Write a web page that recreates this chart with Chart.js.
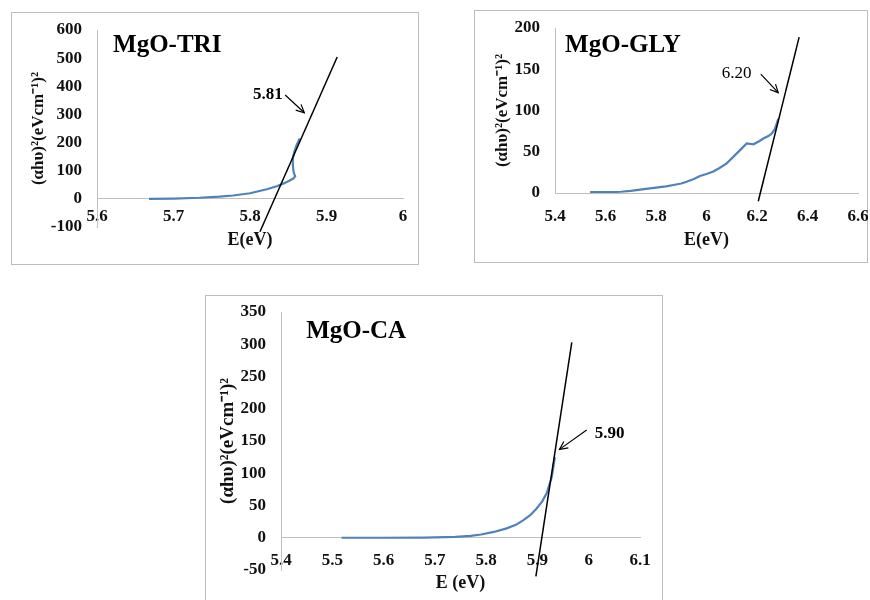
<!DOCTYPE html>
<html><head><meta charset="utf-8">
<script src="https://cdn.jsdelivr.net/npm/chart.js@4.4.1/dist/chart.umd.min.js"></script>
<style>
html,body{margin:0;padding:0;background:#fff}
body{width:870px;height:600px;position:relative;overflow:hidden}
.frame{position:absolute;border:1px solid #bdbdbd;box-sizing:border-box;background:#fff}
canvas{position:absolute}
</style></head><body>
<div class="frame" style="left:11px;top:12px;width:408px;height:253px"></div>
<div class="frame" style="left:474px;top:10px;width:394px;height:253px"></div>
<div class="frame" style="left:205px;top:295px;width:458px;height:320px"></div>
<canvas id="c1" width="408" height="253" style="left:11px;top:12px"></canvas>
<canvas id="c2" width="394" height="253" style="left:474px;top:10px"></canvas>
<canvas id="c3" width="458" height="305" style="left:205px;top:295px"></canvas>
<script>
// ---------- DATA ----------
// MgO-TRI
const triE = [5.668, 5.70, 5.734, 5.76, 5.778, 5.80, 5.822, 5.835, 5.844, 5.852, 5.857, 5.859, 5.857, 5.856, 5.856, 5.858, 5.861, 5.865];
const triA = [0, 1, 4, 8, 12, 20, 34, 45, 55, 65, 73, 80, 95, 120, 145, 168, 192, 215];
const triTanE = [5.813, 5.914];
const triTanA = [-117, 504];
const triXTicks = [5.6, 5.7, 5.8, 5.9, 6];
const triXLabels = ['5.6', '5.7', '5.8', '5.9', '6'];
const triYTicks = [-100, 0, 100, 200, 300, 400, 500, 600];
const triYLabels = ['-100', '0', '100', '200', '300', '400', '500', '600'];

// MgO-GLY
const glyE = [5.539, 5.60, 5.66, 5.70, 5.737, 5.76, 5.80, 5.84, 5.869, 5.90, 5.921, 5.95, 5.974, 6.00, 6.027, 6.05, 6.08, 6.11, 6.133, 6.159, 6.186, 6.21, 6.225, 6.245, 6.258, 6.27, 6.278, 6.284];
const glyA = [1, 1, 1.5, 2.5, 4, 5, 6.5, 8, 9.7, 11.5, 13.7, 17, 20.6, 23, 26, 30, 36, 45, 52, 60, 59, 63, 66, 69, 72, 77, 84, 90];
const glyTanE = [6.205, 6.367];
const glyTanA = [-10, 189];
const glyXTicks = [5.4, 5.6, 5.8, 6.0, 6.2, 6.4, 6.6];
const glyXLabels = ['5.4', '5.6', '5.8', '6', '6.2', '6.4', '6.6'];
const glyYTicks = [0, 50, 100, 150, 200];
const glyYLabels = ['0', '50', '100', '150', '200'];

// MgO-CA
const caE = [5.518, 5.60, 5.68, 5.74, 5.77, 5.79, 5.815, 5.84, 5.858, 5.872, 5.886, 5.898, 5.909, 5.918, 5.928, 5.934];
const caA = [0, 0, 0.3, 1.5, 3, 5, 9, 14.5, 20, 27, 35, 45, 56, 69, 94, 125];
const caTanE = [5.897, 5.967];
const caTanA = [-60, 303];
const caXTicks = [5.4, 5.5, 5.6, 5.7, 5.8, 5.9, 6.0, 6.1];
const caXLabels = ['5.4', '5.5', '5.6', '5.7', '5.8', '5.9', '6', '6.1'];
const caYTicks = [-50, 0, 50, 100, 150, 200, 250, 300, 350];
const caYLabels = ['-50', '0', '50', '100', '150', '200', '250', '300', '350'];

const yTitleText = '(αhυ)²(eVcm⁻¹)²';
// ---------- END DATA ----------

const FONT = "'Liberation Serif', 'Times New Roman', serif";
Chart.defaults.font.family = FONT;
Chart.defaults.color = '#111';

function pairs(xs, ys) { return xs.map((x, i) => ({x: x, y: ys[i]})); }

function build(id, p) {
  const annot = {
    id: 'annot_' + id,
    afterDatasetsDraw(chart) {
      const ctx = chart.ctx, sx = chart.scales.x, sy = chart.scales.y;
      const X = v => sx.getPixelForValue(v), Y = v => sy.getPixelForValue(v);
      ctx.save();
      ctx.fillStyle = '#000';
      ctx.textBaseline = 'alphabetic';
      ctx.textAlign = 'left';
      ctx.font = 'bold ' + p.nameSize + 'px ' + FONT;
      ctx.fillText(p.name, X(p.nameAt[0]), Y(p.nameAt[1]));
      ctx.font = p.noteWeight + ' ' + p.noteSize + 'px ' + FONT;
      ctx.fillText(p.note, X(p.noteAt[0]), Y(p.noteAt[1]));
      // arrow
      const x0 = X(p.arrow[0]), y0 = Y(p.arrow[1]), x1 = X(p.arrow[2]), y1 = Y(p.arrow[3]);
      ctx.strokeStyle = '#000';
      ctx.lineWidth = 1.2;
      ctx.beginPath(); ctx.moveTo(x0, y0); ctx.lineTo(x1, y1); ctx.stroke();
      const ang = Math.atan2(y1 - y0, x1 - x0), L = 9;
      ctx.beginPath();
      ctx.moveTo(x1 - L * Math.cos(ang - 0.45), y1 - L * Math.sin(ang - 0.45));
      ctx.lineTo(x1, y1);
      ctx.lineTo(x1 - L * Math.cos(ang + 0.45), y1 - L * Math.sin(ang + 0.45));
      ctx.stroke();
      ctx.restore();
    }
  };
  return new Chart(document.getElementById(id), {
    type: 'scatter',
    data: {
      datasets: [
        { label: 'tangent', data: pairs(p.tanE, p.tanA), showLine: true, borderColor: '#000',
          borderWidth: 1.5, pointRadius: 0, clip: false },
        { label: p.name, data: pairs(p.E, p.A), showLine: true, borderColor: '#4f81bd',
          borderWidth: 2.2, pointRadius: 0, tension: 0 }
      ]
    },
    options: {
      responsive: false, animation: false, events: [],
      layout: { padding: p.pad },
      plugins: { legend: { display: false }, tooltip: { enabled: false } },
      scales: {
        x: {
          type: 'linear', position: { y: 0 },
          min: p.xTicks[0], max: p.xTicks[p.xTicks.length - 1],
          grid: { display: false, drawTicks: false },
          border: { display: true, color: '#bfbfbf', width: 1 },
          ticks: { padding: p.xPad, autoSkip: false, maxRotation: 0,
                   font: { size: 17, weight: 'bold' }, color: '#111',
                   callback: (v, i) => p.xLabels[i] },
          afterBuildTicks: s => { s.ticks = p.xTicks.map(v => ({ value: v })); },
          afterFit: s => { s.height = p.xH; s.paddingLeft = 0; s.paddingRight = 0; },
          title: { display: true, text: p.xTitle, padding: 0, color: '#111',
                   font: { size: 18, weight: 'bold' } }
        },
        y: {
          type: 'linear', position: 'left',
          min: p.yTicks[0], max: p.yTicks[p.yTicks.length - 1],
          grid: { display: false, drawTicks: false },
          border: { display: true, color: '#bfbfbf', width: 1 },
          ticks: { padding: 15, autoSkip: false, font: { size: 17, weight: 'bold' }, color: '#111',
                   callback: (v, i) => p.yLabels[i] },
          afterBuildTicks: s => { s.ticks = p.yTicks.map(v => ({ value: v })); },
          afterFit: s => { s.width = p.yW; s.paddingTop = 0; s.paddingBottom = 0; },
          title: { display: true, text: yTitleText, padding: 0, color: '#111',
                   font: { size: p.yTitleSize, weight: 'bold' } }
        }
      }
    },
    plugins: [annot]
  });
}

build('c1', {
  E: triE, A: triA, tanE: triTanE, tanA: triTanA,
  xTicks: triXTicks, xLabels: triXLabels, yTicks: triYTicks, yLabels: triYLabels,
  name: 'MgO-TRI', nameAt: [5.621, 522], nameSize: 25,
  note: '5.81', noteAt: [5.804, 355], noteSize: 17, noteWeight: 'bold',
  arrow: [5.846, 369, 5.871, 306],
  xTitle: 'E(eV)', pad: { left: 17, right: 16, top: 18, bottom: 38 },
  yW: 69, xH: 52, xPad: 8, yTitleSize: 17
});
build('c2', {
  E: glyE, A: glyA, tanE: glyTanE, tanA: glyTanA,
  xTicks: glyXTicks, xLabels: glyXLabels, yTicks: glyYTicks, yLabels: glyYLabels,
  name: 'MgO-GLY', nameAt: [5.44, 171], nameSize: 25,
  note: '6.20', noteAt: [6.06, 140], noteSize: 17, noteWeight: 'normal',
  arrow: [6.215, 144, 6.284, 121.6],
  xTitle: 'E(eV)', pad: { left: 18, right: 10, top: 18, bottom: 70 },
  yW: 63, xH: 58, xPad: 13, yTitleSize: 17
});
build('c3', {
  E: caE, A: caA, tanE: caTanE, tanA: caTanA,
  xTicks: caXTicks, xLabels: caXLabels, yTicks: caYTicks, yLabels: caYLabels,
  name: 'MgO-CA', nameAt: [5.449, 310], nameSize: 25,
  note: '5.90', noteAt: [6.012, 155], noteSize: 17, noteWeight: 'bold',
  arrow: [5.996, 167, 5.943, 137],
  xTitle: 'E (eV)', pad: { left: 12, right: 23, top: 17, bottom: 30 },
  yW: 64, xH: 56, xPad: 13, yTitleSize: 19
});
</script>
</body></html>
